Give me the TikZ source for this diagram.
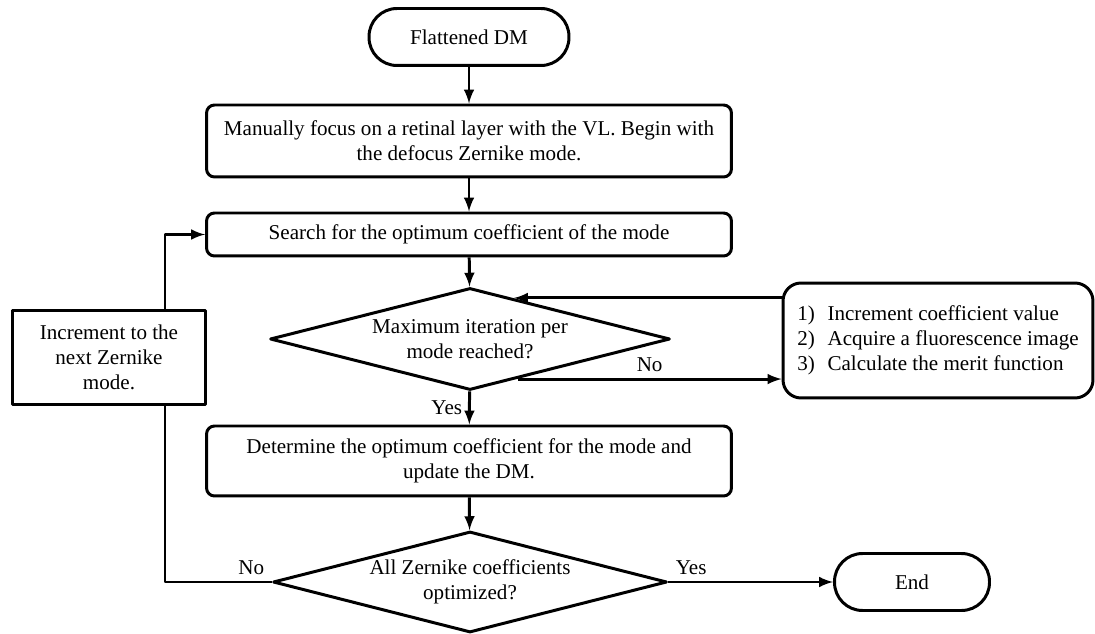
\documentclass[tikz,border=0pt]{standalone}
\usepackage{fontspec}
\setmainfont{Liberation Serif}
\usetikzlibrary{shapes.geometric}

\begin{document}
\begin{tikzpicture}[x=0.02cm, y=-0.02cm, font=\fontsize{12}{14.2}\selectfont, line width=1.7pt, line join=round, >=latex,
	term/.style={draw, rounded corners=0.56cm, minimum width=4cm, minimum height=1.14cm, inner sep=0pt},
	proc/.style={draw, rounded corners=0.16cm, minimum width=10.5cm, inner sep=0pt, align=center},
	decision/.style={draw, diamond, aspect=4, inner sep=0pt, align=center}]
	\useasboundingbox (0,0) rectangle (1095,634);
	% main column
	\node[term] (start) at (469,37) {Flattened DM};
	\node[proc, minimum height=1.44cm] (focus) at (469,141) {Manually focus on a retinal layer with the VL. Begin with\\ the defocus Zernike mode.};
	\node[proc, minimum height=0.86cm] (search) at (469,234.5) {Search for the optimum coefficient of the mode};
	\node[decision, minimum width=8cm, minimum height=2.04cm] (check1) at (470,339) {Maximum iteration per\\ mode reached?};
	\node[proc, minimum height=1.4cm] (update) at (469,461) {Determine the optimum coefficient for the mode and\\ update the DM.};
	\node[decision, minimum width=7.88cm, minimum height=2.02cm] (check2) at (470,582) {All Zernike coefficients\\ optimized?};
	% side boxes
	\node[draw, minimum width=3.88cm, minimum height=1.9cm, inner sep=0pt, align=center] (next) at (109,357.5) {Increment to the\\ next Zernike\\ mode.};
	\node[draw, rounded corners=0.36cm, minimum width=6.2cm, minimum height=2.3cm, inner sep=0pt] (steps) at (938,340.5) {\begin{tabular}{@{}l@{\hspace{0.6em}}l@{}}1) & Increment coefficient value\\ 2) & Acquire a fluorescence image\\ 3) & Calculate the merit function\end{tabular}};
	\node[term, minimum width=3.1cm] (stop) at (912,582) {End};
	\coordinate (loop) at (165,0);
	% connectors
	\draw[->] (start) -- (focus);
	\draw[->] (focus) -- (search);
	\draw[->] (search) -- (check1);
	\draw[->] (check1) -- node[left] {Yes} (update);
	\draw[->] (update) -- (check2);
	\draw[->] (check1.-40) -- node[above] {No} (steps.west |- check1.-40);
	\draw[->] (steps.west |- check1.43) -- (check1.43);
	\draw[->] (check2) -- node[pos=0, above right] {Yes} (stop);
	\draw (check2.west) node[above left] {No} -| (next.south -| loop);
	\draw[->] (next.north -| loop) |- (search.west);
\end{tikzpicture}
\end{document}
